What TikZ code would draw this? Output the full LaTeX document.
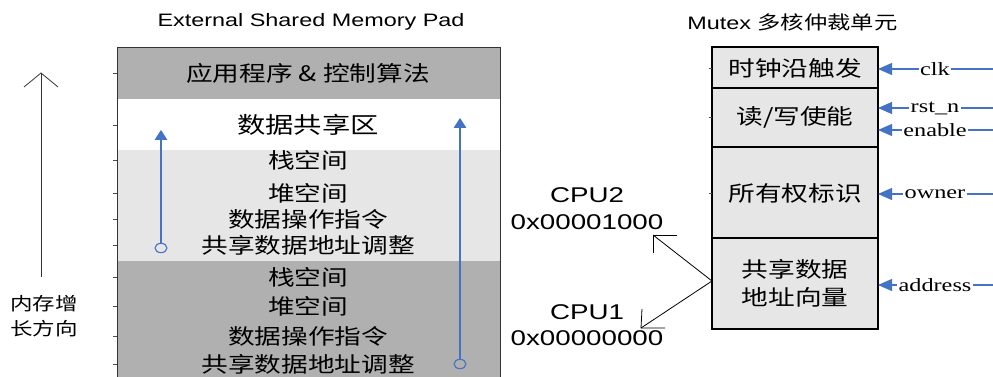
\documentclass[tikz,border=0pt]{standalone}
\usepackage{fontspec}
\setmainfont{Liberation Serif}[FakeStretch=1.3]
\newfontfamily\arialf{Liberation Sans}[FakeStretch=1.3]
\newfontfamily\cjk{Noto Sans CJK SC}[FakeStretch=1.25]
\usetikzlibrary{arrows.meta,shapes.geometric}
\definecolor{dkgray}{HTML}{B0B0B0}
\definecolor{ltgray}{HTML}{E6E6E6}
\definecolor{myblue}{HTML}{4472C4}
\begin{document}
\begin{tikzpicture}[x=0.75pt,y=-0.75pt,
  memtxt/.style={font=\cjk\fontsize{16pt}{18pt}\selectfont, inner sep=0pt},
  bigtxt/.style={font=\cjk\fontsize{17pt}{19pt}\selectfont, inner sep=0pt},
  sidetxt/.style={font=\cjk\fontsize{13.5pt}{19pt}\selectfont, inner sep=0pt, align=center},
  sanstxt/.style={font=\arialf\fontsize{13.5pt}{16pt}\selectfont, inner sep=0pt},
  cputxt/.style={font=\arialf\fontsize{16pt}{19pt}\selectfont, inner sep=0pt},
  sigtxt/.style={font=\fontsize{14pt}{16pt}\selectfont, fill=white, inner sep=1pt},
  sigline/.style={draw=myblue, line width=0.8pt, -{Triangle[length=10.5pt,width=9pt]}},
  growarrow/.style={draw=myblue, line width=0.8pt, -{Triangle[length=7.5pt,width=9.5pt]}},
  ring/.style={ellipse, draw=myblue, line width=0.8pt, minimum width=9pt, minimum height=7pt, inner sep=0pt},
  tickmark/.style={draw=black!70, line width=0.5pt}
]
\useasboundingbox (0,0) rectangle (993,377);

% ---------------- titles
\node[sanstxt] (title1) at (311,22) {External Shared Memory Pad};
\node[anchor=west, inner sep=0pt] (title2) at (687,22) {{\arialf\fontsize{13.5pt}{16pt}\selectfont Mutex }{\cjk\fontsize{14pt}{16pt}\selectfont 多核仲裁单元}};

% ---------------- memory block
\fill[dkgray] (117,47) rectangle (500,99);
\fill[white] (117,99) rectangle (500,150);
\fill[ltgray] (117,150) rectangle (500,261);
\fill[dkgray] (117,261) rectangle (500,377);
\draw[black!80, line width=0.6pt] (117,377) -- (117,47) -- (500,47) -- (500,377);
\foreach \yy in {73,125,160,193,219,245,277,306,336,364}
  \draw[tickmark] (113,\yy) -- (117,\yy);

\node[memtxt] (app) at (308,73) {应用程序 \& 控制算法};
\node[bigtxt] (share) at (308,125) {数据共享区};
\node[memtxt] (s2) at (308,160) {栈空间};
\node[memtxt] (h2) at (308,193) {堆空间};
\node[memtxt] (d2) at (308,219) {数据操作指令};
\node[memtxt] (a2) at (308,245) {共享数据地址调整};
\node[memtxt] (s1) at (308,277) {栈空间};
\node[memtxt] (h1) at (308,306) {堆空间};
\node[memtxt] (d1) at (308,336) {数据操作指令};
\node[memtxt] (a1) at (308,364) {共享数据地址调整};

% blue growth arrows
\node[ring] (c2) at (161,248) {};
\coordinate (t2) at (161,130);
\draw[growarrow] (c2) -- (t2);
\node[ring] (c1) at (460,364) {};
\coordinate (t1) at (460,118);
\draw[growarrow] (c1) -- (t1);

% memory growth direction
\coordinate (gbot) at (41,277);
\coordinate (gtop) at (41,73);
\coordinate (gl) at (24,87);
\coordinate (gr) at (58,87);
\draw[black!80, line width=0.6pt] (gbot) -- (gtop);
\draw[black!80, line width=0.6pt] (gl) -- (gtop) -- (gr);
\node[sidetxt] (growtxt) at (44,316) {内存增\\长方向};

% ---------------- CPU labels
\node[cputxt] (cpu2) at (587,195) {CPU2};
\node[cputxt] (addr2) at (587,222) {0x00001000};
\node[cputxt] (cpu1) at (587,312) {CPU1};
\node[cputxt] (addr1) at (587,338) {0x00000000};

% ---------------- mutex block
\draw[fill=ltgray, line width=0.8pt] (712,47) rectangle (878,329);
\draw[line width=0.8pt] (712,88) -- (878,88);
\draw[line width=0.8pt] (712,147) -- (878,147);
\draw[line width=0.8pt] (712,238) -- (878,238);
\foreach \yy in {68,117,193}
  \draw[tickmark] (709,\yy) -- (712,\yy);

\node[memtxt] (m1) at (795,68) {时钟沿触发};
\node[memtxt] (m2) at (795,117) {读/写使能};
\node[memtxt] (m3) at (795,193) {所有权标识};
\node[memtxt, align=center] (m4) at (795,283) {共享数据\\[3pt]地址向量};

% pointers from mutex to CPU addresses
\coordinate (mx) at (712,281);
\coordinate (p2) at (653,235);
\coordinate (p2a) at (677,235);
\coordinate (p2b) at (653,253);
\coordinate (p1) at (641,328);
\coordinate (p1a) at (665,328);
\coordinate (p1b) at (642,309);
\draw[line width=0.6pt] (mx) -- (p2);
\draw[line width=0.6pt] (p2a) -- (p2) -- (p2b);
\draw[line width=0.6pt] (mx) -- (p1);
\draw[line width=0.6pt] (p1a) -- (p1) -- (p1b);

% ---------------- input signals
\foreach \nm/\yy/\lab in {clk/69/clk, rst/108/rst\_n, en/130/enable, own/194/owner, adr/285/address}{
  \coordinate (\nm R) at (993,\yy);
  \coordinate (\nm L) at (878,\yy);
  \draw[sigline] (\nm R) -- (\nm L);
  \node[sigtxt] (\nm) at (935,\yy) {\lab};
}
\end{tikzpicture}
\end{document}
